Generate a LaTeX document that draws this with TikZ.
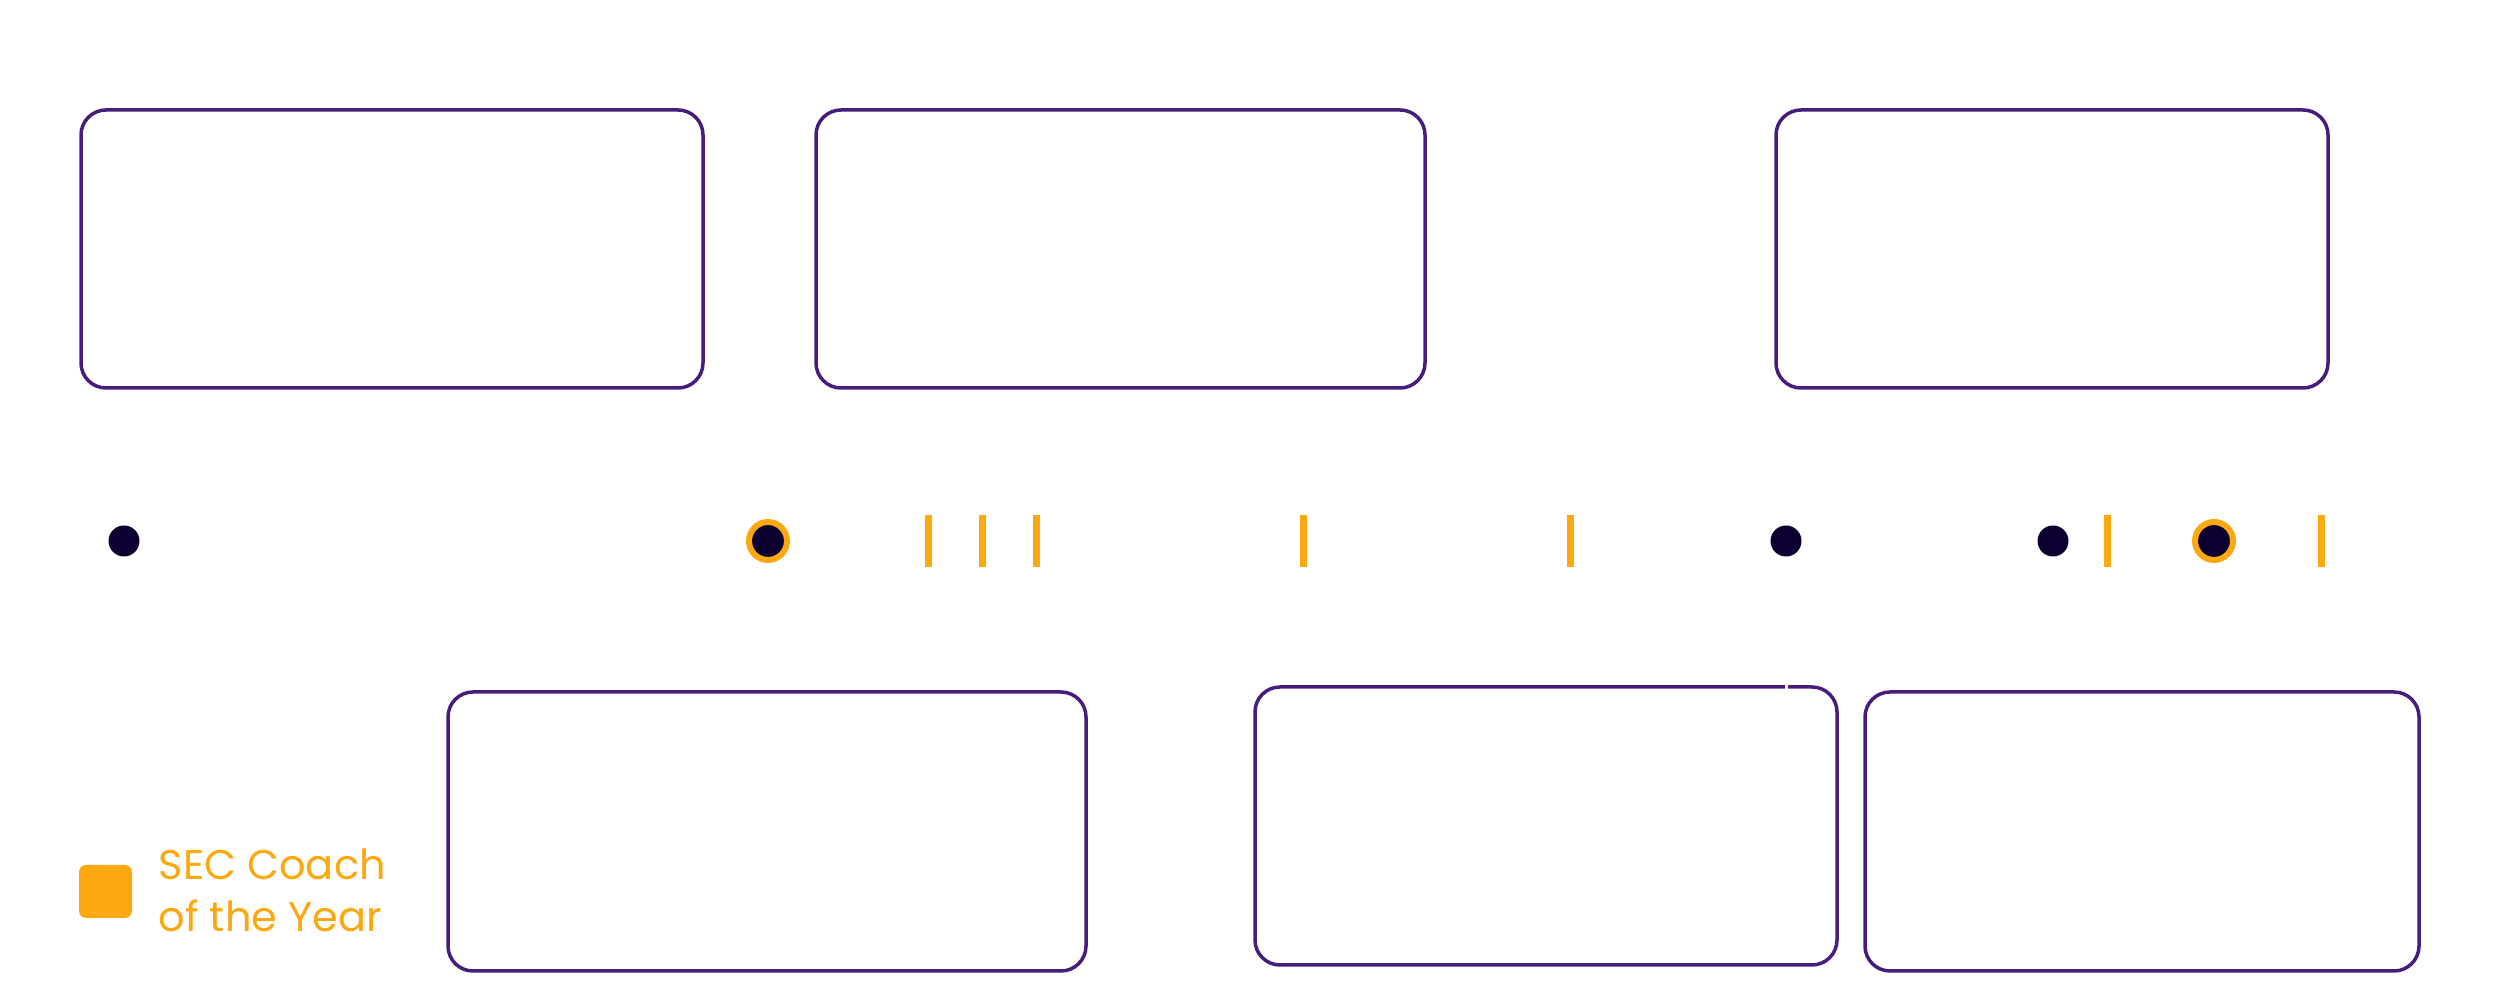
\documentclass[tikz,border=0pt]{standalone}
\usepackage{fontspec}
\setmainfont{Poppins}
\definecolor{lsupurple}{RGB}{70,29,124}
\definecolor{lsugold}{RGB}{252,168,16}
\definecolor{dotdark}{RGB}{12,0,48}
\tikzset{
	card/.style={draw=lsupurple, line width=0.35mm, rounded corners=2.5mm, minimum height=27.8mm, inner sep=0pt},
	year/.style={circle, fill=dotdark, minimum size=3.1mm, inner sep=0pt},
	coty/.style={circle, fill=dotdark, draw=lsugold, line width=0.6mm, minimum size=3.8mm, inner sep=0pt},
	tickmark/.style={lsugold, line width=0.7mm}
}
\begin{document}
\begin{tikzpicture}[x=0.1mm, y=0.1mm]
		\useasboundingbox (0,0) rectangle (2500,984);

		% upper row
		\node[card, minimum width=62.2mm] (1) at (392,735) {};
		\node[card, minimum width=60.9mm] (2) at (1120.5,735) {};
		\node[card, minimum width=55.2mm] (3) at (2052,735) {};

		% lower row
		\node[card, minimum width=63.8mm, minimum height=27.9mm] (4) at (767,152.5) {};
		\node[card, minimum width=58.2mm] (5) at (1546,158) {};
		\node[card, minimum width=55.4mm, minimum height=27.9mm] (6) at (2142,152.5) {};
		\draw[white, line width=0.3mm] (1786,302) -- (1786,292);

		% timeline
		\node[year] (y1) at (124,443) {};
		\node[coty] (y2) at (768,443) {};
		\node[year] (y3) at (1786,443) {};
		\node[year] (y4) at (2053,443) {};
		\node[coty] (y5) at (2214,443) {};
		\foreach \x in {928,982,1036,1303,1570,2107,2321}
			\draw[tickmark] (\x,469) -- (\x,417);

		% legend
		\node[fill=lsugold, rounded corners=0.7mm, minimum size=5.3mm, inner sep=0pt] (key) at (105.5,92.5) {};
		\node[anchor=base west, align=left, inner sep=0pt, text=lsugold, font=\fontsize{11.8pt}{14.8pt}\selectfont] (keytext) at (158,52) {SEC Coach\\of the Year};

	\end{tikzpicture}
\end{document}
